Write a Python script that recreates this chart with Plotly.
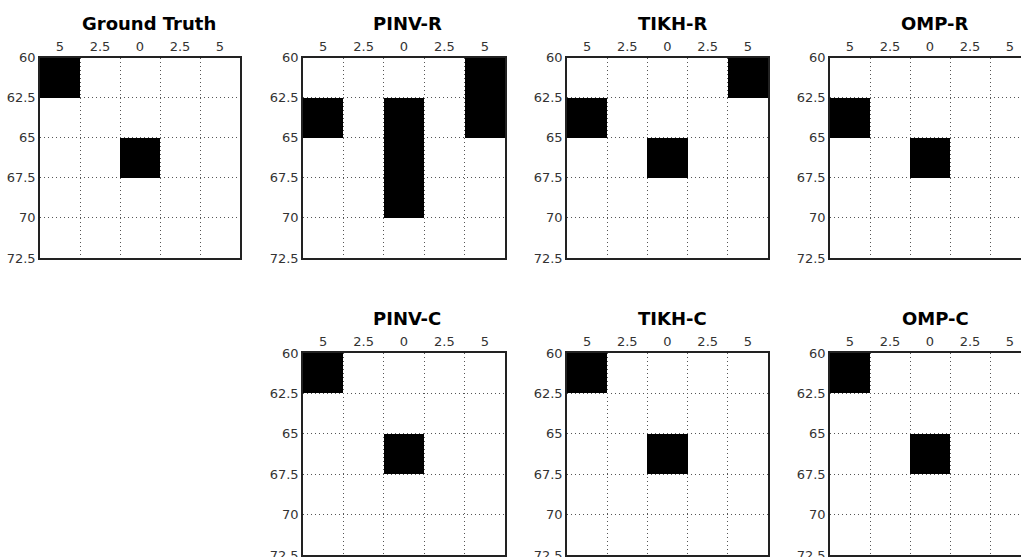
import plotly.graph_objects as go

# Reconstruction maps on a 5 x 5 grid (rows top->bottom, columns left->right)
x_labels = ["5", "2.5", "0", "2.5", "5"]
y_edges = [60, 62.5, 65, 67.5, 70, 72.5]
y_labels = ["60", "62.5", "65", "67.5", "70", "72.5"]

ground_truth = [
    [1, 0, 0, 0, 0],
    [0, 0, 0, 0, 0],
    [0, 0, 1, 0, 0],
    [0, 0, 0, 0, 0],
    [0, 0, 0, 0, 0],
]
pinv_r = [
    [0, 0, 0, 0, 1],
    [1, 0, 1, 0, 1],
    [0, 0, 1, 0, 0],
    [0, 0, 1, 0, 0],
    [0, 0, 0, 0, 0],
]
tikh_r = [
    [0, 0, 0, 0, 1],
    [1, 0, 0, 0, 0],
    [0, 0, 1, 0, 0],
    [0, 0, 0, 0, 0],
    [0, 0, 0, 0, 0],
]
omp_r = [
    [0, 0, 0, 0, 0],
    [1, 0, 0, 0, 0],
    [0, 0, 1, 0, 0],
    [0, 0, 0, 0, 0],
    [0, 0, 0, 0, 0],
]
pinv_c = [
    [1, 0, 0, 0, 0],
    [0, 0, 0, 0, 0],
    [0, 0, 1, 0, 0],
    [0, 0, 0, 0, 0],
    [0, 0, 0, 0, 0],
]
tikh_c = [
    [1, 0, 0, 0, 0],
    [0, 0, 0, 0, 0],
    [0, 0, 1, 0, 0],
    [0, 0, 0, 0, 0],
    [0, 0, 0, 0, 0],
]
omp_c = [
    [1, 0, 0, 0, 0],
    [0, 0, 0, 0, 0],
    [0, 0, 1, 0, 0],
    [0, 0, 0, 0, 0],
    [0, 0, 0, 0, 0],
]

W, H = 1021, 557
FONT = "DejaVu Sans"

# panel layout in pixels: (title, matrix, left, right, top, bottom, title_x, title_y)
panels = [
    ("Ground Truth", ground_truth, 40, 240, 57.5, 258, 149, 24),
    ("PINV-R", pinv_r, 303, 505, 57.5, 258, 407, 24),
    ("TIKH-R", tikh_r, 567, 768, 57.5, 258, 672, 24),
    ("OMP-R", omp_r, 830, 1030, 57.5, 258, 935, 24),
    ("PINV-C", pinv_c, 303, 505, 353, 555, 407, 318.5),
    ("TIKH-C", tikh_c, 567, 768, 353, 555, 672, 318.5),
    ("OMP-C", omp_c, 830, 1030, 353, 555, 935, 318.5),
]

x_centers = list(range(len(x_labels)))
x_bounds = [i + 0.5 for i in range(len(x_labels) - 1)]
y_centers = [(a + b) / 2 for a, b in zip(y_edges[:-1], y_edges[1:])]

GRID = "#555555"
DOTS = "1px,3px"
TICK = "#333333"

fig = go.Figure()
layout = dict(
    template="none",
    width=W,
    height=H,
    margin=dict(l=0, r=0, t=0, b=0, autoexpand=False),
    paper_bgcolor="white",
    plot_bgcolor="white",
    showlegend=False,
    annotations=[],
)

for i, (title, mat, left, right, top, bottom, tx, ty) in enumerate(panels):
    n = "" if i == 0 else str(i + 1)
    xa, ya = "x" + n, "y" + n
    # empty cells are transparent so the dotted grid shows through
    fig.add_trace(go.Heatmap(
        z=mat, x=x_centers, y=y_centers,
        colorscale=[[0, "rgba(255,255,255,0)"], [1, "black"]],
        zmin=0, zmax=1, showscale=False,
        xaxis=xa, yaxis=ya, hoverinfo="skip",
    ))

    # clip the panel at the right edge of the page
    vis_right = min(right, W)
    x_hi = -0.5 + len(x_labels) * (vis_right - left) / (right - left)
    clipped = vis_right < right

    layout["xaxis" + n] = dict(
        domain=[left / W, vis_right / W],
        anchor=ya,
        automargin=False,
        range=[-0.5, x_hi],
        side="top",
        tickmode="array",
        tickvals=x_centers,
        ticktext=x_labels,
        ticks="",
        showgrid=False,
        zeroline=False,
        showline=True,
        linecolor="#222",
        linewidth=1.5,
        mirror=True,
        tickfont=dict(family=FONT, size=13, color=TICK),
        ticklabelstandoff=0,
        ticklabeloverflow="allow",
        fixedrange=True,
        minor=dict(
            tickmode="array",
            tickvals=x_bounds,
            showgrid=True,
            gridcolor=GRID,
            griddash=DOTS,
            gridwidth=1,
            ticks="",
        ),
    )
    layout["yaxis" + n] = dict(
        domain=[1 - bottom / H, 1 - top / H],
        anchor=xa,
        automargin=False,
        range=[y_edges[-1], y_edges[0]],
        tickmode="array",
        tickvals=y_edges,
        ticktext=y_labels,
        ticks="",
        showgrid=True,
        gridcolor=GRID,
        griddash=DOTS,
        gridwidth=1,
        zeroline=False,
        showline=True,
        linecolor="#222",
        linewidth=1.5,
        mirror=not clipped,
        tickfont=dict(family=FONT, size=13, color=TICK),
        ticklabelstandoff=0,
        ticklabeloverflow="allow",
        fixedrange=True,
    )
    layout["annotations"].append(dict(
        text="<b>" + title + "</b>",
        xref="paper", yref="paper",
        x=tx / W, y=1 - ty / H,
        xanchor="center", yanchor="middle",
        showarrow=False,
        font=dict(family=FONT, size=18, color="black"),
    ))

fig.update_layout(**layout)
fig.write_html("out.html")
